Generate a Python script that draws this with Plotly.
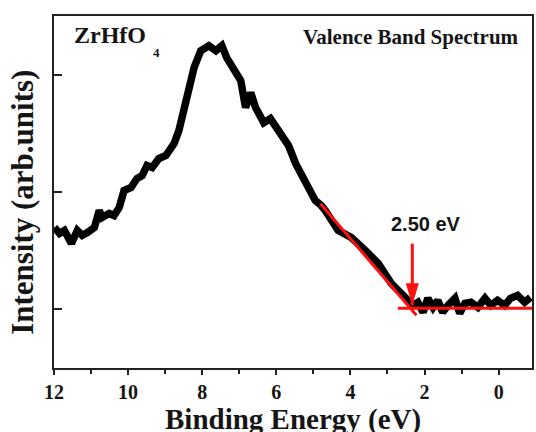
import plotly.graph_objects as go

# ---- data ----
BE_EV = [11.99, 11.85, 11.72, 11.53, 11.37, 11.24, 11.10, 10.91, 10.78, 10.70,
         10.51, 10.38, 10.24, 10.11, 9.92, 9.76, 9.62, 9.49, 9.35, 9.17,
         8.98, 8.76, 8.63, 8.55, 8.44, 8.36, 8.22, 8.04, 7.82, 7.63,
         7.47, 7.34, 7.15, 6.96, 6.83, 6.69, 6.56, 6.34, 6.16, 6.00,
         5.86, 5.67, 5.48, 5.32, 5.13, 4.95, 4.79, 4.68, 4.33, 3.98,
         3.60, 3.25, 2.90, 2.53, 2.31, 2.18, 2.04, 1.91, 1.77, 1.64,
         1.51, 1.37, 1.18, 1.05, 0.91, 0.75, 0.56, 0.37, 0.21, 0.03,
         -0.16, -0.32, -0.51, -0.70, -0.86]
INTENSITY = [0.698, 0.647, 0.672, 0.562, 0.672, 0.630, 0.655, 0.698, 0.843, 0.783,
             0.817, 0.800, 0.868, 1.013, 1.038, 1.115, 1.140, 1.226, 1.209, 1.285,
             1.311, 1.413, 1.523, 1.634, 1.753, 1.864, 2.060, 2.204, 2.247, 2.204,
             2.247, 2.145, 2.051, 1.949, 1.719, 1.847, 1.719, 1.591, 1.626, 1.549,
             1.506, 1.396, 1.243, 1.157, 1.038, 0.928, 0.885, 0.843, 0.672, 0.613,
             0.502, 0.391, 0.221, 0.094, 0.034, 0.060, -0.026, 0.094, 0.017, 0.077,
             -0.026, 0.034, 0.094, -0.034, 0.051, 0.060, 0.017, 0.094, 0.034, 0.077,
             0.034, 0.094, 0.119, 0.060, 0.102]

FIT_X = [4.81, 2.22]
FIT_Y = [0.90, -0.051]
BASE_X = [2.72, -0.9]
BASE_Y = [0.01, 0.01]

ONSET_EV = 2.33
ARROW_TIP = 0.034
ARROW_TOP = 0.56
ONSET_LABEL = "2.50 eV"

X_TICKS = [12, 10, 8, 6, 4, 2, 0]
Y_TICKS = [0, 1, 2]

SERIF = "Liberation Serif"
SANS = "Liberation Sans"
RED = "#ff1010"
INK = "#151515"

fig = go.Figure()
fig.add_trace(go.Scatter(x=BE_EV, y=INTENSITY, mode="lines",
                         line=dict(color="#000000", width=7.5), showlegend=False))
fig.add_trace(go.Scatter(x=FIT_X, y=FIT_Y, mode="lines",
                         line=dict(color=RED, width=3), showlegend=False))
fig.add_trace(go.Scatter(x=BASE_X, y=BASE_Y, mode="lines",
                         line=dict(color=RED, width=3), showlegend=False))

# arrow: shaft + head
fig.add_shape(type="line", xref="x", yref="y", x0=ONSET_EV, x1=ONSET_EV,
              y0=ARROW_TOP, y1=ARROW_TIP, line=dict(color=RED, width=3))
fig.add_shape(type="path", xref="x", yref="y", xsizemode="pixel", ysizemode="pixel",
              xanchor=ONSET_EV, yanchor=ARROW_TIP,
              path="M0,0 L-6.5,22 L6.5,22 Z", fillcolor=RED, line=dict(width=0))

fig.add_annotation(x=1.96, y=0.73, xref="x", yref="y", text=ONSET_LABEL,
                   showarrow=False, font=dict(family=SANS, size=20, color=INK, weight="bold"))

fig.add_annotation(x=0.0375, y=0.946, xref="paper", yref="paper", xanchor="left",
                   yanchor="middle", text="ZrHfO", showarrow=False,
                   font=dict(family=SERIF, size=24, color=INK, weight="bold"))
fig.add_annotation(x=0.2135, y=0.896, xref="paper", yref="paper", xanchor="center",
                   yanchor="middle", text="4", showarrow=False,
                   font=dict(family=SERIF, size=13, color=INK, weight="bold"))
fig.add_annotation(x=0.746, y=0.939, xref="paper", yref="paper", xanchor="center",
                   yanchor="middle", text="Valence Band Spectrum", showarrow=False,
                   font=dict(family=SERIF, size=21, color=INK, weight="bold"))

# axis titles
fig.add_annotation(x=0.5, y=-0.147, xref="paper", yref="paper", xanchor="center",
                   yanchor="middle", text="Binding Energy (eV)", showarrow=False,
                   font=dict(family=SERIF, size=29, color=INK, weight="bold"))
fig.add_annotation(x=-0.0656, y=0.471, xref="paper", yref="paper", xanchor="center",
                   yanchor="middle", text="Intensity (arb.units)", textangle=-90,
                   showarrow=False,
                   font=dict(family=SERIF, size=31, color=INK, weight="bold"))

fig.update_xaxes(range=[12, -0.9], tickvals=X_TICKS, ticks="outside", ticklen=5,
                 tickwidth=2, tickcolor="#222", showline=True, linewidth=2,
                 linecolor="#222", mirror=True, showgrid=False, zeroline=False,
                 tickfont=dict(family=SERIF, size=20, color=INK, weight="bold"),
                 minor=dict(dtick=1, tick0=0, ticks="outside", ticklen=4, tickwidth=2,
                            tickcolor="#222", showgrid=False))
fig.update_yaxes(range=[-0.5, 2.5], tickvals=Y_TICKS, ticks="inside", ticklen=8,
                 tickwidth=2, tickcolor="#222", showline=True, linewidth=2,
                 linecolor="#222", mirror=True, showgrid=False, zeroline=False,
                 showticklabels=False)

fig.update_layout(width=536, height=432, margin=dict(l=54, r=2, t=16, b=64),
                  plot_bgcolor="white", paper_bgcolor="white")

fig.write_html("out.html")
